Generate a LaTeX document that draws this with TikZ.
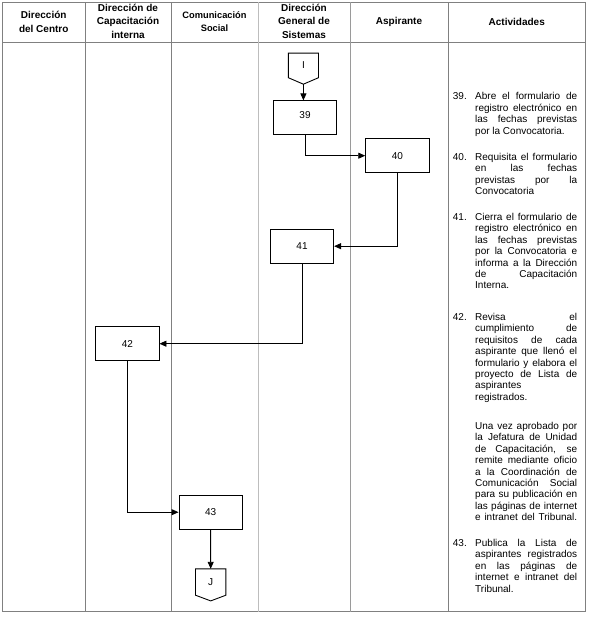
\documentclass[tikz,border=0pt]{standalone}
\usepackage{fontspec}
\setmainfont{Liberation Sans}
\usetikzlibrary{arrows.meta}
\definecolor{linegray}{HTML}{808080}
\definecolor{lightgray}{HTML}{BDBDBD}
\newcommand{\jl}[1]{\makebox[102pt][s]{#1}}
\begin{document}
\begin{tikzpicture}[x=1pt,y=-1pt,
  hdr/.style={font=\bfseries\fontsize{10}{13.5}\selectfont, align=center, inner sep=0pt},
  stepbox/.style={draw=black, line width=0.9pt, minimum width=63.3pt, minimum height=33.7pt, inner sep=0pt, font=\fontsize{10}{12}\selectfont},
  offpage/.style={minimum width=30pt, minimum height=25pt, inner sep=0pt, font=\fontsize{10}{12}\selectfont},
  outline/.style={draw=black, line width=0.9pt, line join=miter},
  flow/.style={draw=black, line width=0.9pt, -{Triangle[length=7pt,width=6pt]}},
  num/.style={anchor=base west, inner sep=0pt, font=\fontsize{10}{11.4}\selectfont},
  para/.style={anchor=base west, inner sep=0pt, font=\fontsize{10}{11.4}\selectfont}
]
\useasboundingbox (0,0) rectangle (590,617);
\fill[white] (0,0) rectangle (590,617);

% table
\draw[linegray, line width=0.8pt] (2.5,2.5) rectangle (585.5,611.5);
\draw[linegray, line width=0.8pt] (2.5,42.5) -- (585.5,42.5);
\draw[linegray, line width=0.8pt] (85,2.5) -- (85,611.5);
\draw[linegray, line width=0.8pt] (171,2.5) -- (171,611.5);
\draw[lightgray, line width=1.3pt] (258.3,2.5) -- (258.3,611.5);
\draw[linegray!80, line width=0.8pt] (350,2.5) -- (350,611.5);
\draw[linegray, line width=0.8pt] (448,2.5) -- (448,611.5);

% headers
\node[hdr] (h1) at (43.75,22) {Dirección\\del Centro};
\node[hdr] (h2) at (128,21) {Dirección de\\Capacitación\\interna};
\node[hdr, font=\bfseries\fontsize{9.3}{13}\selectfont] (h3) at (214.5,21.8) {Comunicación\\Social};
\node[hdr] (h4) at (304,21) {Dirección\\General de\\Sistemas};
\node[hdr] (h5) at (399,22) {Aspirante};
\node[hdr] (h6) at (516.75,22) {Actividades};

% off-page connector I
\node[offpage, minimum width=29.8pt, minimum height=24.2pt] (I) at (303.4,65.4) {I};
\coordinate (Itip) at ([yshift=-6.5pt]I.south);
\draw[outline] (I.north west) -- (I.north east) -- (I.south east) -- (Itip) -- (I.south west) -- cycle;

% boxes
\node[stepbox] (b39) at (305,117.7) {\raisebox{6pt}{39}};
\node[stepbox] (b40) at (397.35,155.7) {40};
\node[stepbox] (b41) at (302,246.2) {41};
\node[stepbox] (b42) at (127.35,343.7) {42};
\node[stepbox] (b43) at (210.65,512.2) {43};

% off-page connector J
\node[offpage, minimum width=30pt, minimum height=26pt] (J) at (210.7,582) {J};
\coordinate (Jtip) at ([yshift=-5.7pt]J.south);
\draw[outline] (J.north west) -- (J.north east) -- (J.south east) -- (Jtip) -- (J.south west) -- cycle;

% connectors
\draw[flow] (Itip) -- (Itip |- b39.north);
\draw[flow] (b39.south) |- (b40.west);
\draw[flow] (b40.south) |- (b41.east);
\draw[flow] (b41.south) |- (b42.east);
\draw[flow] (b42.south) |- (b43.west);
\draw[flow] (b43.south) -- (J.north);

% activities
\node[num] (n39) at (452.7,100) {39.};
\node[para] (p39) at (475,100) {\parbox[t]{102pt}{\lineskiplimit=-10pt
\jl{Abre el formulario de}\\
\jl{registro electrónico en}\\
\jl{las fechas previstas}\\
por la Convocatoria.}};

\node[num] (n40) at (452.7,160.5) {40.};
\node[para] (p40) at (475,160.5) {\parbox[t]{102pt}{\lineskiplimit=-10pt
\jl{Requisita el formulario}\\
\jl{en las fechas}\\
\jl{previstas por la}\\
Convocatoria}};

\node[num] (n41) at (452.7,220.5) {41.};
\node[para] (p41) at (475,220.5) {\parbox[t]{102pt}{\lineskiplimit=-10pt
\jl{Cierra el formulario de}\\
\jl{registro electrónico en}\\
\jl{las fechas previstas}\\
\jl{por la Convocatoria e}\\
\jl{informa a la Dirección}\\
\jl{de Capacitación}\\
Interna.}};

\node[num] (n42) at (452.7,320.5) {42.};
\node[para] (p42) at (475,320.5) {\parbox[t]{102pt}{\lineskiplimit=-10pt
\jl{Revisa el}\\
\jl{cumplimiento de}\\
\jl{requisitos de cada}\\
\jl{aspirante que llenó el}\\
\jl{formulario y elabora el}\\
\jl{proyecto de Lista de}\\
aspirantes\\
registrados.}};

\node[para] (p42b) at (475,429.5) {\parbox[t]{102pt}{\lineskiplimit=-10pt
\jl{Una vez aprobado por}\\
\jl{la Jefatura de Unidad}\\
\jl{de Capacitación, se}\\
\jl{remite mediante oficio}\\
\jl{a la Coordinación de}\\
\jl{Comunicación Social}\\
\jl{para su publicación en}\\
\jl{las páginas de internet}\\
\jl{e intranet del Tribunal.}}};

\node[num] (n43) at (452.7,546.5) {43.};
\node[para] (p43) at (475,546.5) {\parbox[t]{102pt}{\lineskiplimit=-10pt
\jl{Publica la Lista de}\\
\jl{aspirantes registrados}\\
\jl{en las páginas de}\\
\jl{internet e intranet del}\\
Tribunal.}};
\end{tikzpicture}
\end{document}
